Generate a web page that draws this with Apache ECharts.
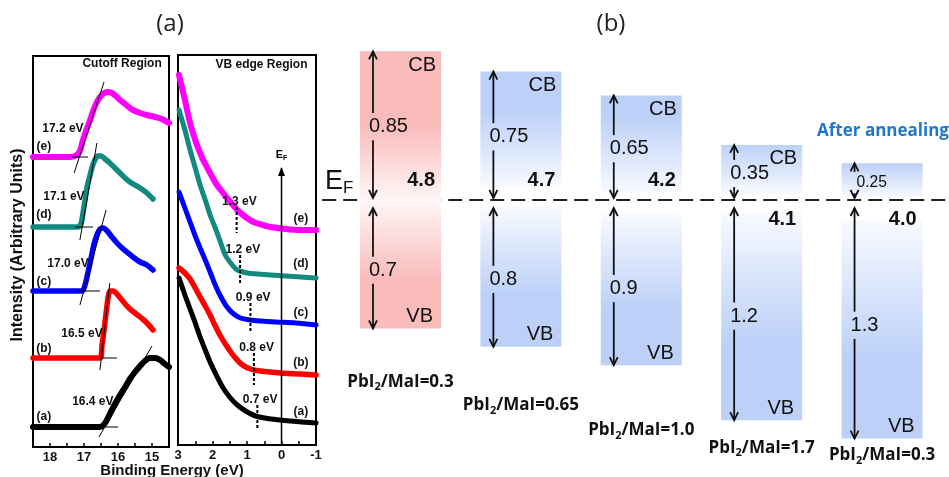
<!DOCTYPE html>
<html><head><meta charset="utf-8">
<script src="https://cdn.jsdelivr.net/npm/echarts@6/dist/echarts.min.js"></script>
<style>html,body{margin:0;padding:0;background:#fff}#c{width:949px;height:477px}</style>
</head><body><div id="c"></div>
<script>
// ===== Panel (a) left: secondary-electron cutoff, [binding energy (eV), intensity (arb.)]
const cutoffA = [[18.5,20],[16.53,20],[16.38,24],[16.24,33],[16.09,43],[15.94,52],[15.79,60],[15.65,68],[15.50,75],[15.35,81],[15.21,86],[15.06,89],[14.91,89],[14.76,87],[14.62,83],[14.5,80]];
const cutoffB = [[18.5,89],[16.53,89],[16.47,102],[16.41,117],[16.35,134],[16.29,150],[16.24,156],[16.15,156],[16.03,153],[15.91,148],[15.79,143],[15.65,138],[15.50,134],[15.35,130],[15.15,124],[14.97,117]];
const cutoffC = [[18.5,156],[17.06,156],[16.97,162],[16.88,175],[16.79,189],[16.71,202],[16.62,212],[16.53,218],[16.44,219],[16.32,216],[16.18,210],[16.03,204],[15.88,199],[15.74,195],[15.56,190],[15.35,185],[15.15,182],[14.97,177]];
const cutoffD = [[18.5,220],[17.18,220],[17.09,223],[17.03,234],[16.97,247],[16.91,260],[16.82,272],[16.76,280],[16.68,287],[16.59,291],[16.50,291],[16.38,288],[16.24,284],[16.09,279],[15.94,274],[15.79,269],[15.65,265],[15.50,262],[15.35,259],[15.15,254],[14.97,248]];
const cutoffE = [[18.5,290],[17.41,290],[17.21,292],[17.12,296],[17.03,307],[16.91,319],[16.82,327],[16.71,338],[16.62,345],[16.53,350],[16.41,354],[16.29,355],[16.18,354],[16.06,351],[15.94,347],[15.79,343],[15.65,339],[15.50,336],[15.35,334],[15.15,332],[14.91,330],[14.71,328],[14.5,324]];
// tangent construction lines [x1,y1,x2,y2]
const cutoffTangents = [
  [17.29,274,16.41,365],[17.35,290,16.88,290],
  [17.12,207,16.62,304],[17.26,220,16.74,220],
  [17.12,142,16.35,237],[17.20,156,16.53,156],
  [16.53,77,16.24,164],[16.53,89,16.03,89],
  [16.56,10,15.0,101],[16.53,20,16.0,20]
];
const cutoffValues = ['16.4 eV','16.5 eV','17.0 eV','17.1 eV','17.2 eV'];
const curveTags = ['(a)','(b)','(c)','(d)','(e)'];

// ===== Panel (a) right: valence band edge
const vbA = [[2.97,167],[2.80,150],[2.65,136],[2.50,122],[2.36,108],[2.21,95],[2.07,83],[1.89,70],[1.69,57],[1.48,47],[1.28,40],[1.04,34],[0.75,29],[0.31,26],[-0.27,24],[-1.0,22]];
const vbB = [[2.97,177],[2.80,172],[2.65,166],[2.50,157],[2.36,148],[2.21,139],[2.07,130],[1.92,119],[1.77,109],[1.57,98],[1.36,88],[1.13,80],[0.90,76],[0.61,74],[0.02,72],[-0.56,71],[-1.0,70]];
const vbC = [[2.97,253],[2.80,237],[2.65,223],[2.50,209],[2.36,197],[2.21,185],[2.07,173],[1.92,160],[1.77,149],[1.60,139],[1.42,132],[1.19,127],[0.90,125],[0.61,124],[0.17,123],[-0.42,122],[-1.0,120]];
const vbD = [[2.97,335],[2.80,315],[2.65,295],[2.50,277],[2.36,260],[2.21,245],[2.07,230],[1.92,217],[1.77,203],[1.63,190],[1.45,181],[1.28,175],[0.99,172],[0.69,171],[0.31,170],[-0.12,169],[-0.56,168],[-1.0,167]];
const vbE = [[2.97,370],[2.80,345],[2.65,322],[2.50,305],[2.36,292],[2.21,281],[2.07,272],[1.89,261],[1.69,252],[1.48,243],[1.28,235],[1.04,228],[0.81,223],[0.55,220],[0.31,218],[-0.12,216],[-0.56,215],[-1.0,215]];
const vbEdges = [0.7, 0.8, 0.9, 1.2, 1.3];
const vbEdgeSpan = [[15,40],[60,92],[112,142],[160,190],[212,238]];

// ===== Panel (b): energy level diagram (eV relative to E_F)
const ratios = ['0.3','0.65','1.0','1.7','0.3'];
const workFunction = ['4.8','4.7','4.2','4.1','4.0'];
const cbGap = ['0.85','0.75','0.65','0.35','0.25'];
const vbGap = ['0.7','0.8','0.9','1.2','1.3'];
const cbNames = ['CB','CB','CB','CB',''];
const cbTop = [0.81, 0.70, 0.57, 0.30, 0.20];
const cbBottom = [0.0, 0.07, 0.04, 0.03, 0.015];
const vbTop = [0.0, -0.035, -0.07, -0.065, -0.11];
const vbBottom = [-0.70, -0.80, -0.90, -1.20, -1.30];

// ---- layout / style (not data)
const LAB_Y = [-0.99, -1.117, -1.253, -1.35, -1.39];
const WF_BELOW = [false,false,false,true,true];
const BOX_W = 0.673;
const RED = '#fabbbb', BLUE = '#bdd1f8';
const COLORS = ['#000000','#ff0000','#0000ff','#138a80','#ff00ff'];
const FA = 'Liberation Sans';

const cutoffLabelPos = [[16.74,45],[17.06,113],[17.47,183],[17.59,250],[17.62,318]];
const cutoffTagPos = [[18.18,30],[18.18,98],[18.18,165],[18.18,232],[18.18,300]];
const vbTagPos = [[-0.56,33],[-0.56,82],[-0.56,132],[-0.56,181],[-0.56,226]];

const chart = echarts.init(document.getElementById('c'));

function xAx(grid, min, max) {
  return {type:'value', gridIndex:grid, min, max, interval:0.5, inverse:true,
    axisLine:{show:false}, splitLine:{show:false},
    axisTick:{show:true, inside:true, length:4, lineStyle:{color:'#000', width:1.5}},
    axisLabel:{margin:4, fontFamily:FA, fontWeight:'bold', fontSize:13, color:'#111',
      showMinLabel:true, showMaxLabel:true,
      formatter: v => Number.isInteger(v) ? String(v) : ''}};
}
function yAx(grid, max) {
  return {type:'value', gridIndex:grid, min:0, max, axisLine:{show:false}, axisTick:{show:false},
    axisLabel:{show:false}, splitLine:{show:false}};
}
function curve(xi, data, color, width) {
  return {type:'line', xAxisIndex:xi, yAxisIndex:xi, data, symbol:'none', smooth:0.3,
    lineStyle:{color, width, cap:'round', join:'round'}, silent:true, z:3};
}
function segs(xi, data, style, head) {
  return {type:'custom', xAxisIndex:xi, yAxisIndex:xi, silent:true, z:4, data,
    encode:{x:[0,2], y:[1,3]},
    renderItem:(params, api) => {
      const a = api.coord([api.value(0), api.value(1)]), b = api.coord([api.value(2), api.value(3)]);
      const ch = [{type:'line', shape:{x1:a[0],y1:a[1],x2:b[0],y2:b[1]}, style}];
      if (head) ch.push({type:'polygon', shape:{points:[[b[0],b[1]-1],[b[0]-3.5,b[1]+8],[b[0]+3.5,b[1]+8]]}, style:{fill:'#000'}});
      return {type:'group', children:ch};
    }};
}
function texts(xi, items, fontSize, weight, color) {
  return {type:'custom', xAxisIndex:xi, yAxisIndex:xi, silent:true, z:6, clip:false,
    data: items.map(t => [t[1], t[2]]),
    renderItem:(params, api) => {
      const it = items[params.dataIndex];
      const p = api.coord([api.value(0), api.value(1)]);
      const st = {text:it[0], fontSize, fontWeight:weight, fontFamily:FA, fill:color,
        align:'center', verticalAlign:'middle', textAlign:'center', textVerticalAlign:'middle'};
      if (it[3]) st.rich = it[3];
      return {type:'text', x:p[0], y:p[1], style:st};
    }};
}

const cutTexts = [];
cutoffValues.forEach((t,i) => cutTexts.push([t, cutoffLabelPos[i][0], cutoffLabelPos[i][1]]));
curveTags.forEach((t,i) => cutTexts.push([t, cutoffTagPos[i][0], cutoffTagPos[i][1]]));
cutTexts.push(['Cutoff Region', 15.88, 383]);

const vbTexts = [];
vbEdges.forEach((e,i) => vbTexts.push([e.toFixed(1)+' eV', e - 0.08, vbEdgeSpan[i][1] + 5]));
curveTags.forEach((t,i) => vbTexts.push([t, vbTagPos[i][0], vbTagPos[i][1]]));
vbTexts.push(['VB edge Region', 0.58, 380]);
vbTexts.push(['{e|E}{f|F}', 0, 290, {
  e:{fontSize:11, fontWeight:'bold', fontFamily:FA, fill:'#000', lineHeight:14},
  f:{fontSize:7, fontWeight:'bold', fontFamily:FA, fill:'#000', lineHeight:8, verticalAlign:'bottom'}}]);

function arrow(ch, x, y1, y2, label) {
  const len = y2 - y1;
  const fs = Math.min(20, len * 0.45);
  const cy = (y1 + y2) / 2 + 2;
  const gh = fs * 0.68;
  const st = {stroke:'#111', lineWidth:1.8};
  if (cy - gh > y1) ch.push({type:'line', shape:{x1:x,y1:y1,x2:x,y2:cy-gh}, style:st});
  if (cy + gh < y2) ch.push({type:'line', shape:{x1:x,y1:cy+gh,x2:x,y2:y2}, style:st});
  ch.push({type:'polyline', shape:{points:[[x-4,y1+8],[x,y1],[x+4,y1+8]]}, style:{stroke:'#111', lineWidth:1.8, fill:'none'}});
  ch.push({type:'polyline', shape:{points:[[x-4,y2-8],[x,y2],[x+4,y2-8]]}, style:{stroke:'#111', lineWidth:1.8, fill:'none'}});
  ch.push({type:'text', x: fs < 20 ? x + 2 : x - 4, y: cy, style:{text:label, fontSize:fs, fontFamily:FA, fill:'#111',
    align:'left', verticalAlign:'middle', textAlign:'left', textVerticalAlign:'middle'}});
}
function boxText(ch, x, y, text, align, weight) {
  ch.push({type:'text', x, y, style:{text, fontSize:20, fontFamily:FA, fontWeight:weight||'normal', fill:'#111',
    align, verticalAlign:'middle', textAlign:align, textVerticalAlign:'middle'}});
}

const bandData = ratios.map((r,i) => [i, cbTop[i], cbBottom[i], vbTop[i], vbBottom[i]]);

const option = {
  animation:false,
  backgroundColor:'#fff',
  grid:[
    {left:33, top:56, width:136, height:391, show:true, borderColor:'#000', borderWidth:2, backgroundColor:'transparent'},
    {left:178, top:55, width:138, height:390, show:true, borderColor:'#000', borderWidth:2, backgroundColor:'transparent'},
    {left:322, top:16.5, width:627, height:458.75, show:false}
  ],
  xAxis:[
    xAx(0, 14.5, 18.5),
    xAx(1, -1, 3),
    {type:'value', gridIndex:2, min:-0.652, max:4.556, show:false}
  ],
  yAxis:[
    yAx(0, 391),
    yAx(1, 390),
    {type:'value', gridIndex:2, min:-1.5, max:1.0, show:false}
  ],
  graphic:[
    {type:'text', x:170, y:24, style:{text:'(a)', fontSize:24, fontFamily:'Open Sans', fill:'#222', align:'center', verticalAlign:'middle', textAlign:'center', textVerticalAlign:'middle'}},
    {type:'text', x:611, y:24, style:{text:'(b)', fontSize:24, fontFamily:'Open Sans', fill:'#222', align:'center', verticalAlign:'middle', textAlign:'center', textVerticalAlign:'middle'}},
    {type:'text', x:172, y:471, style:{text:'Binding Energy (eV)', fontSize:15, fontWeight:'bold', fontFamily:FA, fill:'#111', align:'center', verticalAlign:'middle', textAlign:'center', textVerticalAlign:'middle'}},
    {type:'text', x:18, y:245, rotation:Math.PI/2, style:{text:'Intensity (Arbitrary Units)', fontSize:16, fontWeight:'bold', fontFamily:FA, fill:'#111', align:'center', verticalAlign:'middle', textAlign:'center', textVerticalAlign:'middle'}},
    {type:'text', x:325, y:167, style:{text:'{e|E}{f|F}', rich:{
      e:{fontSize:27, fontFamily:FA, fill:'#111', color:'#111', lineHeight:30},
      f:{fontSize:17, fontFamily:FA, fill:'#111', color:'#111', lineHeight:18, verticalAlign:'bottom'}}, align:'left', verticalAlign:'top', textAlign:'left', textVerticalAlign:'top'}},
    {type:'text', x:883, y:131, style:{text:'After annealing', fontSize:17, fontWeight:'bold', fontFamily:'Open Sans', fill:'#1f78c8', align:'center', verticalAlign:'middle', textAlign:'center', textVerticalAlign:'middle'}}
  ],
  series:[
    curve(0, cutoffA, COLORS[0], 6), curve(0, cutoffB, COLORS[1], 5.5), curve(0, cutoffC, COLORS[2], 5.5),
    curve(0, cutoffD, COLORS[3], 5.5), curve(0, cutoffE, COLORS[4], 6),
    segs(0, cutoffTangents, {stroke:'#000', lineWidth:1}),
    texts(0, cutTexts, 12, 'bold', '#111'),
    curve(1, vbA, COLORS[0], 5), curve(1, vbB, COLORS[1], 5.5), curve(1, vbC, COLORS[2], 5),
    curve(1, vbD, COLORS[3], 5), curve(1, vbE, COLORS[4], 6),
    segs(1, vbEdges.map((e,i) => [e, vbEdgeSpan[i][1], e, vbEdgeSpan[i][0]]), {stroke:'#000', lineWidth:2, lineDash:[3,2]}),
    segs(1, [[0,0,0,277]], {stroke:'#000', lineWidth:1.5}, true),
    texts(1, vbTexts, 12, 'bold', '#111'),
    {type:'line', xAxisIndex:2, yAxisIndex:2, data:[[-0.65,0],[4.53,0]], symbol:'none', silent:true, z:1,
      lineStyle:{color:'#222', width:2, type:[14,7]}},
    {type:'custom', xAxisIndex:2, yAxisIndex:2, silent:true, clip:false, z:2, data:bandData,
      encode:{x:0, y:[1,2,3,4]},
      renderItem:(params, api) => {
        const i = params.dataIndex;
        const c0 = api.coord([api.value(0), 0]);
        const xc = c0[0], ef = c0[1];
        const hw = api.size([BOX_W, 0])[0] / 2;
        const yCt = api.coord([0, api.value(1)])[1];
        const yCb = api.coord([0, api.value(2)])[1];
        const yVt = api.coord([0, api.value(3)])[1];
        const yVb = api.coord([0, api.value(4)])[1];
        const col = i === 0 ? RED : BLUE;
        const pale = i === 0 ? '#fff6f6' : '#f8faff';
        const L = xc - hw, R = xc + hw;
        const hC = yCb - yCt, hV = yVb - yVt;
        const ch = [];
        ch.push({type:'rect', shape:{x:L, y:yCt, width:2*hw, height:hC}, style:{fill:new echarts.graphic.LinearGradient(0,0,0,1,[
          {offset:0,color:col},{offset:Math.max(0,1-75/hC),color:col},{offset:1,color:pale}])}});
        ch.push({type:'rect', shape:{x:L, y:yVt, width:2*hw, height:hV}, style:{fill:new echarts.graphic.LinearGradient(0,0,0,1,[
          {offset:0,color:pale},{offset:0.62,color:col},{offset:1,color:col}])}});
        const ax = L + 13;
        arrow(ch, ax, yCt, ef - 2, cbGap[i]);
        arrow(ch, ax, ef + 8, yVb, vbGap[i]);
        if (cbNames[i]) boxText(ch, R - 5, yCt + 14, cbNames[i], 'right');
        boxText(ch, R - 6, WF_BELOW[i] ? ef + 19 : ef - 20, workFunction[i], 'right', 'bold');
        boxText(ch, R - 8, yVb - 12, 'VB', 'right');
        const ly = api.coord([0, LAB_Y[i]])[1];
        ch.push({type:'text', x:xc, y:ly, style:{text:'{n|PbI}{s|2}{n|/MaI=' + ratios[i] + '}',
          rich:{n:{fontSize:17, fontWeight:'bold', fontFamily:'Open Sans', fill:'#111', color:'#111', lineHeight:22},
                s:{fontSize:11, fontWeight:'bold', fontFamily:'Open Sans', fill:'#111', color:'#111', lineHeight:11, verticalAlign:'bottom'}},
          align:'center', verticalAlign:'middle', textAlign:'center', textVerticalAlign:'middle'}});
        return {type:'group', children:ch};
      }}
  ]
};
chart.setOption(option);
</script></body></html>
